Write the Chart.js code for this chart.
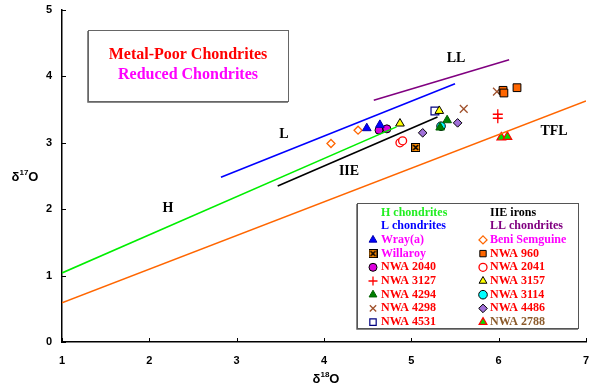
<!DOCTYPE html>
<html>
<head>
<meta charset="utf-8">
<script src="https://cdn.jsdelivr.net/npm/chart.js@4/dist/chart.umd.min.js"></script>
<style>
  html, body { margin: 0; padding: 0; background: #fff; }
  #wrap { width: 589px; height: 389px; position: relative; }
</style>
</head>
<body>
<div id="wrap"><canvas id="oxygenChart" width="589" height="389"></canvas></div>
<script>
'use strict';

// ── Axis ticks ──────────────────────────────────────────
const xTicks = [1, 2, 3, 4, 5, 6, 7];
const yTicks = [0, 1, 2, 3, 4, 5];

// ── Reference lines (δ18O, δ17O end points) ─────────────
const lineH   = [[1.00, 1.04], [4.83, 3.24]];
const lineL   = [[2.82, 2.48], [5.50, 3.89]];
const lineLL  = [[4.57, 3.64], [6.12, 4.25]];
const lineIIE = [[3.47, 2.35], [5.30, 3.39]];
const lineTFL = [[1.00, 0.59], [7.00, 3.63]];

// ── Meteorite analyses (δ18O, δ17O) ─────────────────────
const wrayA        = [[4.49, 3.22], [4.64, 3.27]];
const beniSemguine = [[4.08, 2.99], [4.39, 3.19]];
const willaroy     = [[5.05, 2.93]];
const nwa960       = [[6.05, 3.79], [6.06, 3.75], [6.21, 3.83]];
const nwa2040      = [[4.63, 3.19], [4.72, 3.21]];
const nwa2041      = [[4.87, 3.00], [4.90, 3.03]];
const nwa3127      = [[5.99, 3.43], [5.99, 3.37]];
const nwa3157      = [[4.87, 3.29], [5.32, 3.48]];
const nwa4294      = [[5.33, 3.23], [5.41, 3.34]];
const nwa3114      = [[5.34, 3.25]];
const nwa4298      = [[5.60, 3.51], [5.98, 3.77]];
const nwa4486      = [[5.13, 3.15], [5.53, 3.30]];
const nwa4531      = [[5.27, 3.48]];
const nwa2788      = [[6.03, 3.08], [6.10, 3.09]];

const toPts = arr => arr.map(p => ({ x: p[0], y: p[1] }));

// Willaroy marker: orange square with black X
function makeWillaroyIcon() {
    const c = document.createElement('canvas');
    c.width = 9; c.height = 9;
    const g = c.getContext('2d');
    g.fillStyle = '#ff8c00';
    g.fillRect(0.5, 0.5, 8, 8);
    g.strokeStyle = '#000';
    g.lineWidth = 1;
    g.strokeRect(0.5, 0.5, 8, 8);
    g.lineWidth = 1.6;
    g.beginPath();
    g.moveTo(2, 2); g.lineTo(7, 7);
    g.moveTo(7, 2); g.lineTo(2, 7);
    g.stroke();
    return c;
}
const willaroyIcon = makeWillaroyIcon();

// ── Series definitions (marker styles) ──────────────────
const series = [
    { label: 'Wray(a)',       data: wrayA,        style: 'triangle', r: 5,   bg: '#0000ff', bd: '#0000aa', bw: 1,   text: '#ff00ff' },
    { label: 'Beni Semguine', data: beniSemguine, style: 'rectRot',  r: 4,   bg: '#ffffff', bd: '#ff6600', bw: 1.3, text: '#ff00ff' },
    { label: 'Willaroy',      data: willaroy,     style: willaroyIcon, r: 5, bg: '#ff8c00', bd: '#000000', bw: 1,   text: '#ff00ff' },
    { label: 'NWA 960',       data: nwa960,       style: 'rect',     r: 5.5, bg: '#ff6600', bd: '#000000', bw: 1,   text: '#ff0000' },
    { label: 'NWA 2040',      data: nwa2040,      style: 'circle',   r: 4,   bg: '#dd00dd', bd: '#000000', bw: 1,   text: '#ff0000' },
    { label: 'NWA 2041',      data: nwa2041,      style: 'circle',   r: 4,   bg: '#ffffff', bd: '#ff0000', bw: 1.3, text: '#ff0000' },
    { label: 'NWA 3127',      data: nwa3127,      style: 'cross',    r: 5,   bg: '#ff0000', bd: '#ff0000', bw: 1.3, text: '#ff0000' },
    { label: 'NWA 3157',      data: nwa3157,      style: 'triangle', r: 5,   bg: '#ffff00', bd: '#000000', bw: 1,   text: '#ff0000' },
    { label: 'NWA 4294',      data: nwa4294,      style: 'triangle', r: 5,   bg: '#008000', bd: '#006000', bw: 1,   text: '#ff0000' },
    { label: 'NWA 3114',      data: nwa3114,      style: 'circle',   r: 4.3, bg: '#00ffff', bd: '#000000', bw: 1,   text: '#ff0000' },
    { label: 'NWA 4298',      data: nwa4298,      style: 'crossRot', r: 5.5, bg: '#a0522d', bd: '#a0522d', bw: 1.3, text: '#ff0000' },
    { label: 'NWA 4486',      data: nwa4486,      style: 'rectRot',  r: 4.3, bg: '#a070d8', bd: '#000000', bw: 1,   text: '#ff0000' },
    { label: 'NWA 4531',      data: nwa4531,      style: 'rect',     r: 5.5, bg: '#ffffff', bd: '#000080', bw: 1.2, text: '#ff0000' },
    { label: 'NWA 2788',      data: nwa2788,      style: 'triangle', r: 5,   bg: '#00dd00', bd: '#ff0000', bw: 1.2, text: '#8b5a2b' }
];

const refLines = [
    { label: 'H chondrites',  data: lineH,   color: '#00ee00' },
    { label: 'L chondrites',  data: lineL,   color: '#0000ff' },
    { label: 'IIE irons',     data: lineIIE, color: '#000000' },
    { label: 'LL chondrites', data: lineLL,  color: '#800080' },
    { label: 'TFL',           data: lineTFL, color: '#ff6600' }
];

// ── Build datasets ──────────────────────────────────────
const datasets = [];
refLines.forEach(l => {
    datasets.push({
        type: 'line',
        label: l.label,
        data: toPts(l.data),
        borderColor: l.color,
        borderWidth: 1.6,
        pointRadius: 0,
        fill: false,
        tension: 0
    });
});
series.forEach(s => {
    datasets.push({
        type: 'scatter',
        label: s.label,
        data: toPts(s.data),
        pointStyle: s.style,
        pointRadius: s.r,
        pointHoverRadius: s.r,
        backgroundColor: s.bg,
        borderColor: s.bd,
        borderWidth: s.bw
    });
});

// ── Helpers for drawing text / markers ──────────────────
function drawDeltaLabel(ctx, sup, cx, cy) {
    ctx.save();
    ctx.fillStyle = '#000';
    ctx.textBaseline = 'alphabetic';
    ctx.textAlign = 'left';
    const big = 'bold 13px "Liberation Sans", Arial, sans-serif';
    const small = 'bold 8px "Liberation Sans", Arial, sans-serif';
    ctx.font = big;
    const wd = ctx.measureText('δ').width;
    const wo = ctx.measureText('O').width;
    ctx.font = small;
    const ws = ctx.measureText(sup).width;
    let x = cx - (wd + ws + wo) / 2;
    const base = cy + 5;
    ctx.font = big;
    ctx.fillText('δ', x, base); x += wd;
    ctx.font = small;
    ctx.fillText(sup, x, base - 6); x += ws;
    ctx.font = big;
    ctx.fillText('O', x, base);
    ctx.restore();
}

function drawMarker(ctx, s, x, y) {
    ctx.save();
    ctx.fillStyle = s.bg;
    ctx.strokeStyle = s.bd;
    ctx.lineWidth = s.bw;
    if (Chart.helpers && Chart.helpers.drawPoint) {
        Chart.helpers.drawPoint(ctx, { pointStyle: s.style, radius: s.r, rotation: 0, borderWidth: s.bw }, x, y);
    }
    ctx.restore();
}

// ── Custom drawing plugin: inward ticks, titles, labels, legend ──
const decorPlugin = {
    id: 'decor',
    afterDraw(chart) {
        const ctx = chart.ctx;
        const xs = chart.scales.x, ys = chart.scales.y;
        const area = chart.chartArea;

        // inward tick marks
        ctx.save();
        ctx.strokeStyle = '#000';
        ctx.lineWidth = 1;
        xTicks.forEach(v => {
            const px = Math.round(xs.getPixelForValue(v)) + 0.5;
            ctx.beginPath();
            ctx.moveTo(px, area.bottom);
            ctx.lineTo(px, area.bottom - 4);
            ctx.stroke();
        });
        yTicks.forEach(v => {
            const py = Math.round(ys.getPixelForValue(v)) + 0.5;
            ctx.beginPath();
            ctx.moveTo(area.left, py);
            ctx.lineTo(area.left + 4, py);
            ctx.stroke();
        });
        ctx.restore();

        // axis titles
        drawDeltaLabel(ctx, '18', (area.left + area.right) / 2 + 2, 378);
        drawDeltaLabel(ctx, '17', 25, ys.getPixelForValue(2.5));

        // line labels
        ctx.save();
        ctx.fillStyle = '#000';
        ctx.font = 'bold 14px "Liberation Serif", "Times New Roman", serif';
        ctx.textAlign = 'center';
        ctx.textBaseline = 'middle';
        ctx.fillText('LL', 456, 58);
        ctx.fillText('L', 284, 134);
        ctx.fillText('H', 168, 208);
        ctx.fillText('IIE', 349, 171);
        ctx.fillText('TFL', 554, 131);
        ctx.restore();

        // title box
        ctx.save();
        ctx.fillStyle = '#fff';
        ctx.fillRect(88, 30, 200, 71);
        ctx.strokeStyle = '#666';
        ctx.lineWidth = 1;
        ctx.strokeRect(88.5, 30.5, 200, 71);
        ctx.strokeStyle = '#888';
        ctx.beginPath();
        ctx.moveTo(87.5, 31); ctx.lineTo(87.5, 102.5); ctx.lineTo(288, 102.5);
        ctx.stroke();
        ctx.font = 'bold 16px "Liberation Serif", "Times New Roman", serif';
        ctx.textAlign = 'center';
        ctx.textBaseline = 'middle';
        ctx.fillStyle = '#ff0000';
        ctx.fillText('Metal-Poor Chondrites', 188, 55);
        ctx.fillStyle = '#ff00ff';
        ctx.fillText('Reduced Chondrites', 188, 75);
        ctx.restore();

        // legend box
        ctx.save();
        ctx.fillStyle = '#fff';
        ctx.fillRect(357, 203, 221, 125);
        ctx.strokeStyle = '#555';
        ctx.lineWidth = 1;
        ctx.strokeRect(357.5, 203.5, 221, 125);
        ctx.strokeStyle = '#888';
        ctx.beginPath();
        ctx.moveTo(356.5, 204); ctx.lineTo(356.5, 329.5); ctx.lineTo(578, 329.5);
        ctx.stroke();

        ctx.font = 'bold 12px "Liberation Serif", "Times New Roman", serif';
        ctx.textAlign = 'left';
        ctx.textBaseline = 'middle';
        const rowY = i => 212.5 + i * 13.7;
        const colText = [381, 490];
        const colMark = [373, 483];

        // line entries (text only)
        const lineEntries = [refLines[0], refLines[2], refLines[1], refLines[3]];
        lineEntries.forEach((l, i) => {
            const col = i % 2, row = Math.floor(i / 2);
            ctx.fillStyle = l.color === '#00ee00' ? '#22ee22' : l.color;
            ctx.fillText(l.label, colText[col], rowY(row));
        });

        // marker entries
        series.forEach((s, i) => {
            const col = i % 2, row = 2 + Math.floor(i / 2);
            const y = rowY(row);
            drawMarker(ctx, Object.assign({}, s, { r: Math.min(s.r, 4.5) }), colMark[col], y);
            ctx.fillStyle = s.text;
            ctx.fillText(s.label, colText[col], y);
        });
        ctx.restore();
    }
};

// ── Chart ───────────────────────────────────────────────
new Chart(document.getElementById('oxygenChart').getContext('2d'), {
    type: 'scatter',
    data: { datasets },
    options: {
        responsive: false,
        animation: false,
        events: [],
        layout: { autoPadding: false, padding: { top: 10, right: 3, left: 0, bottom: 0 } },
        plugins: {
            legend: { display: false },
            tooltip: { enabled: false }
        },
        scales: {
            x: {
                type: 'linear',
                min: xTicks[0],
                max: xTicks[xTicks.length - 1],
                afterFit: s => { s.height = 47; s.paddingLeft = 0; s.paddingRight = 0; },
                afterBuildTicks: s => { s.ticks = xTicks.map(v => ({ value: v })); },
                grid: { display: false, drawTicks: false },
                border: { display: true, color: '#000', width: 1.5 },
                ticks: {
                    padding: 12,
                    maxRotation: 0,
                    color: '#000',
                    font: { family: '"Liberation Sans", Arial, sans-serif', size: 11, weight: 'bold' }
                }
            },
            y: {
                type: 'linear',
                min: yTicks[0],
                max: yTicks[yTicks.length - 1],
                afterFit: s => { s.width = 62; s.paddingTop = 0; s.paddingBottom = 0; },
                afterBuildTicks: s => { s.ticks = yTicks.map(v => ({ value: v })); },
                grid: { display: false, drawTicks: false },
                border: { display: true, color: '#000', width: 1.5 },
                ticks: {
                    padding: 10,
                    color: '#000',
                    font: { family: '"Liberation Sans", Arial, sans-serif', size: 11, weight: 'bold' }
                }
            }
        }
    },
    plugins: [decorPlugin]
});
</script>
</body>
</html>
